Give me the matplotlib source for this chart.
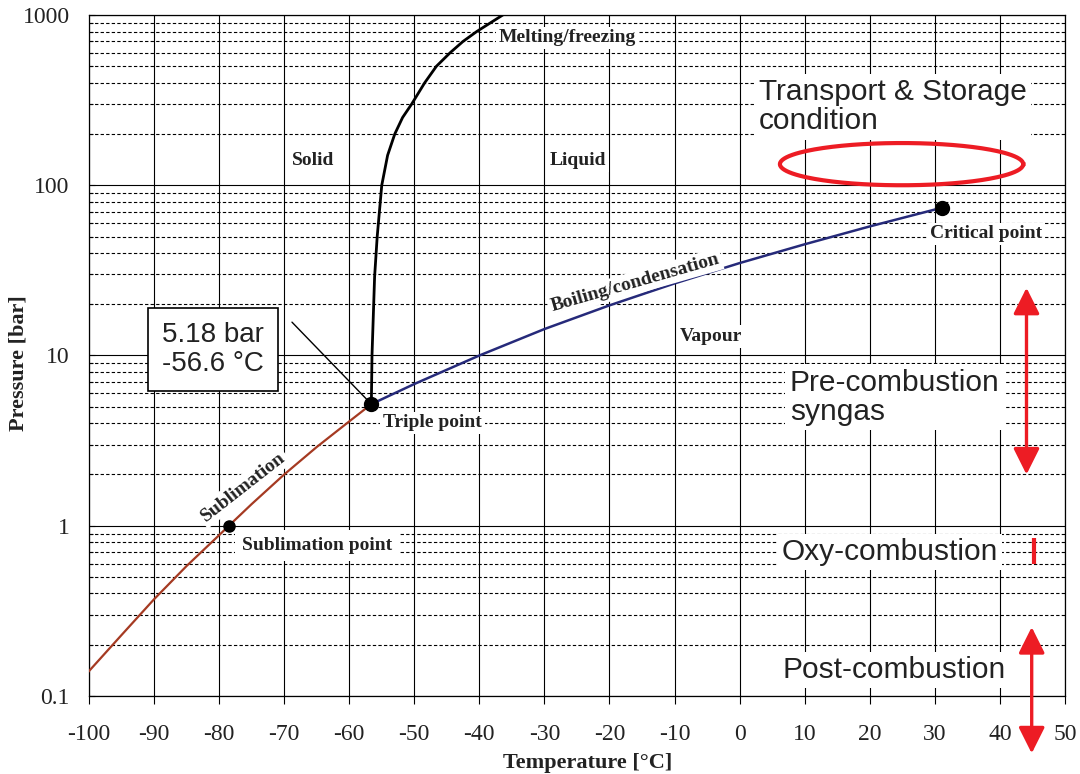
"""
CO2 phase diagram with capture process operating ranges
"""

import numpy as np
import matplotlib.pyplot as plt
from matplotlib.ticker import FixedLocator, FixedFormatter, NullFormatter

plt.rcParams['axes.unicode_minus'] = False

# sublimation line (solid - vapour)
subl_T = [-100, -95, -90, -85, -80, -78.5, -75, -70, -65, -60, -56.6]
subl_p = [0.14, 0.228, 0.37, 0.58, 0.88, 1.0, 1.34, 2.0, 2.9, 4.1, 5.18]

# boiling line (liquid - vapour) up to the critical point
boil_T = [-56.6, -50, -40, -30, -20, -10, 0, 10, 20, 31.1]
boil_p = [5.18, 6.8, 10.0, 14.3, 19.7, 26.5, 34.9, 45.0, 57.3, 73.8]

# melting line (solid - liquid)
melt_T = [-56.6, -56.5, -56.1, -55.7, -55.0, -54.1, -53.0, -51.8, -50.4, -48.4,
          -46.6, -44.5, -42.5, -40.4, -36.4]
melt_p = [5.18, 10, 29, 50, 100, 150, 200, 250, 300, 400,
          500, 600, 700, 800, 1000]

# special points
triple = (-56.6, 5.18)
subl_pt = (-78.5, 1.0)
critical = (31.1, 73.8)

# process windows
transport_T = (6.2, 43.6)      # ellipse x range
transport_p = (100, 177)       # ellipse y range
pre_T, pre_p = 44.1, (2.0, 25.0)
oxy_T, oxy_p = 45.2, (0.60, 0.85)
post_T, post_p = 44.9, (0.046, 0.254)

x_ticks = list(range(-100, 51, 10))
y_major = [0.1, 1, 10, 100, 1000]
y_major_labels = ['0.1', '1', '10', '100', '1000']
y_minor = [m * d for d in [0.1, 1, 10, 100] for m in range(2, 10)]

RED = '#ED1C24'
serif = ['Liberation Serif', 'DejaVu Serif']
sans = ['Liberation Sans', 'DejaVu Sans']

fig = plt.figure(figsize=(10.8, 7.74), dpi=100)
ax = fig.add_axes([0.0824, 0.1008, 0.9036, 0.8798])
ax.set_yscale('log')
ax.set_xlim(-100, 50)
ax.set_ylim(0.1, 1000)

# grid
for t in x_ticks:
    ax.axvline(t, color='black', lw=0.8, zorder=1)
for p in y_major:
    ax.axhline(p, color='black', lw=0.8, zorder=1)
for p in y_minor:
    ax.axhline(p, color='black', lw=0.8, ls=(0, (3, 2)), zorder=1)

ax.xaxis.set_major_locator(FixedLocator(x_ticks))
ax.yaxis.set_major_locator(FixedLocator(y_major))
ax.yaxis.set_major_formatter(FixedFormatter(y_major_labels))
ax.yaxis.set_minor_locator(FixedLocator(y_minor))
ax.yaxis.set_minor_formatter(NullFormatter())
ax.tick_params(axis='x', direction='out', length=6, width=0.8, pad=14)
ax.tick_params(axis='y', which='major', direction='in', length=4, width=0.8, pad=14)
ax.tick_params(axis='y', which='minor', direction='in', length=3, width=0.8)
for lab in ax.get_xticklabels() + ax.get_yticklabels():
    lab.set_family(serif)
    lab.set_fontsize(17)
    lab.set_color('#222222')
for s in ax.spines.values():
    s.set_linewidth(0.9)

ax.set_xlabel('Temperature [°C]', family=serif, fontsize=16, fontweight='bold',
              color='#222222')
ax.set_ylabel('Pressure [bar]', family=serif, fontsize=16, fontweight='bold',
              color='#222222')
ax.xaxis.set_label_coords(0.511, -0.083)
ax.yaxis.set_label_coords(-0.062, 0.489)

# phase lines
ax.plot(subl_T, subl_p, color='#A53A22', lw=1.6, zorder=4)
ax.plot(boil_T, boil_p, color='#262A7A', lw=1.8, zorder=4)
ax.plot(melt_T, melt_p, color='black', lw=2.0, zorder=4)

ax.plot(*triple, 'o', color='black', ms=10, zorder=6)
ax.plot(*subl_pt, 'o', color='black', ms=8, zorder=6)
ax.plot(*critical, 'o', color='black', ms=10, zorder=6)

white = dict(facecolor='white', edgecolor='none', pad=2)
lab_kw = dict(family=serif, fontweight='bold', fontsize=14, color='#222222', zorder=5)

ax.text(-65.6, 139, 'Solid', ha='center', va='center', bbox=white, **lab_kw)
ax.text(-24.9, 139, 'Liquid', ha='center', va='center', bbox=white, **lab_kw)
ax.text(-26.5, 733, 'Melting/freezing', ha='center', va='center', bbox=white, **lab_kw)
ax.text(-4.4, 12.9, 'Vapour', ha='center', va='center', bbox=white, **lab_kw)
ax.text(-16.1, 26.7, 'Boiling/condensation', ha='center', va='center', rotation=16,
        bbox=white, **lab_kw)
ax.text(-76.3, 1.69, 'Sublimation', ha='center', va='center', rotation=38,
        bbox=white, **lab_kw)
ax.text(-54.8, 4.02, 'Triple point', ha='left', va='center', bbox=white, **lab_kw)
ax.text(-76.5, 0.77, 'Sublimation point', ha='left', va='center',
        bbox=dict(facecolor='white', edgecolor='none', pad=5), **lab_kw)
ax.text(29.2, 51.8, 'Critical point', ha='left', va='center', bbox=white, **lab_kw)

# triple point callout
ax.annotate('', xy=triple, xytext=(-68.8, 15.7),
            arrowprops=dict(arrowstyle='-', color='black', lw=1.0, shrinkA=0, shrinkB=4),
            zorder=5)
ax.text(-80.9, 10.8, '5.18 bar\n-56.6 °C', ha='center', va='center', family=sans,
        fontsize=20, color='#222222', linespacing=1.15, zorder=6,
        bbox=dict(facecolor='white', edgecolor='black', lw=1.2, pad=10))

# transport & storage window
t = np.linspace(0, 2 * np.pi, 200)
cx = (transport_T[0] + transport_T[1]) / 2
rx = (transport_T[1] - transport_T[0]) / 2
ly0, ly1 = np.log10(transport_p[0]), np.log10(transport_p[1])
ax.plot(cx + rx * np.cos(t), 10 ** ((ly0 + ly1) / 2 + (ly1 - ly0) / 2 * np.sin(t)),
        color=RED, lw=3, zorder=5)

big = dict(family=sans, fontsize=21.5, color='#222222', zorder=5, ha='left', va='center')
ax.text(3.0, 289, 'Transport & Storage\ncondition', linespacing=1.05,
        bbox=dict(facecolor='white', edgecolor='none', pad=3), **big)
ax.text(7.7, 5.7, 'Pre-combustion\nsyngas', linespacing=1.05,
        bbox=dict(facecolor='white', edgecolor='none', pad=3), **big)
ax.text(6.5, 0.70, 'Oxy-combustion',
        bbox=dict(facecolor='white', edgecolor='none', pad=3), **big)
ax.text(6.65, 0.142, 'Post-combustion',
        bbox=dict(facecolor='white', edgecolor='none', pad=3), **big)

arrow_kw = dict(arrowstyle='<|-|>,head_length=1.0,head_width=0.5', mutation_scale=16,
                color=RED, lw=2.4, shrinkA=0, shrinkB=0, clip_on=False)
ax.annotate('', xy=(pre_T, pre_p[1]), xytext=(pre_T, pre_p[0]),
            arrowprops=arrow_kw, zorder=6)
ax.annotate('', xy=(post_T, post_p[1]), xytext=(post_T, post_p[0]),
            arrowprops=arrow_kw, annotation_clip=False, zorder=6)
ax.plot([oxy_T, oxy_T], oxy_p, color=RED, lw=3, solid_capstyle='butt', zorder=6)

fig.savefig('out.png', dpi=100)
